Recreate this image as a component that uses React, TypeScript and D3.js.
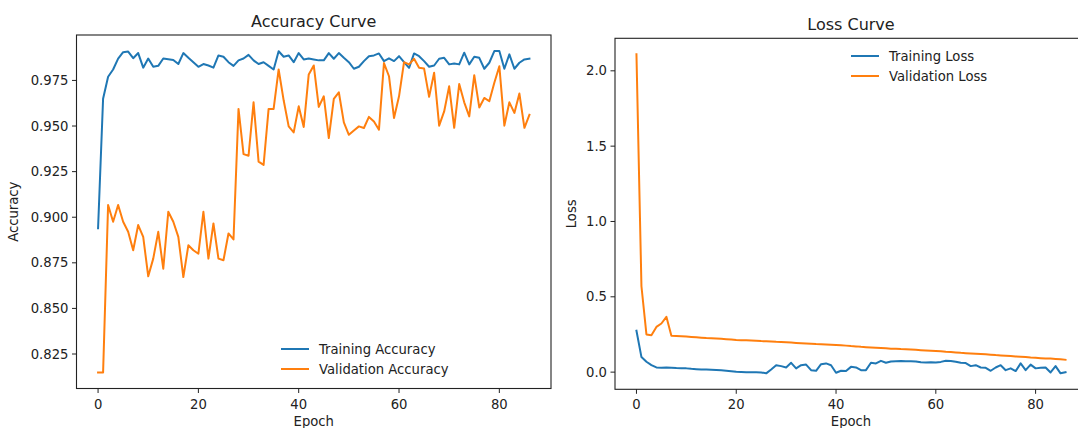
import React from 'react';
import * as d3 from 'd3';

// accuracy per epoch
const trainAcc = [
  0.894, 0.965, 0.977, 0.981, 0.987, 0.9905, 0.9908, 0.9872, 0.990, 0.982,
  0.987, 0.9825, 0.983, 0.987, 0.9866, 0.9862, 0.984, 0.990, 0.9874, 0.985,
  0.9825, 0.984, 0.9832, 0.982, 0.9887, 0.988, 0.985, 0.983, 0.986, 0.987,
  0.989, 0.986, 0.984, 0.985, 0.983, 0.981, 0.991, 0.988, 0.9887, 0.985,
  0.990, 0.9865, 0.987, 0.9865, 0.986, 0.986, 0.990, 0.9869, 0.990, 0.9874,
  0.985, 0.9814, 0.9825, 0.9856, 0.9883, 0.9887, 0.9898, 0.9856, 0.9871, 0.9856,
  0.9883, 0.985, 0.9819, 0.9898, 0.9883, 0.9856, 0.9825, 0.9832, 0.9869, 0.9874,
  0.9838, 0.9843, 0.9838, 0.9902, 0.9838, 0.988, 0.9874, 0.9814, 0.9847, 0.9911,
  0.9911, 0.9814, 0.9893, 0.9814, 0.9847, 0.9865, 0.9869,
];

const valAcc = [
  0.8149, 0.8149, 0.9067, 0.8975, 0.9067, 0.8975, 0.892, 0.8819, 0.8957, 0.8892,
  0.8676, 0.8773, 0.892, 0.8718, 0.903, 0.8975, 0.8892, 0.8672, 0.8846, 0.8819,
  0.880, 0.903, 0.8773, 0.8966, 0.8773, 0.8764, 0.8911, 0.8878, 0.9594, 0.9346,
  0.9337, 0.963, 0.9305, 0.9287, 0.9594, 0.9594, 0.981, 0.9641, 0.9498, 0.9465,
  0.9608, 0.9495, 0.9783, 0.9832, 0.9605, 0.9663, 0.9434, 0.9649, 0.9685, 0.952,
  0.9452, 0.9476, 0.9498, 0.9489, 0.955, 0.9525, 0.948, 0.9845, 0.9773, 0.9544,
  0.9663, 0.985, 0.9838, 0.9869, 0.982, 0.9815, 0.966, 0.9792, 0.9502, 0.958,
  0.9718, 0.949, 0.973, 0.963, 0.9553, 0.9779, 0.9602, 0.9654, 0.9636, 0.9737,
  0.9828, 0.9502, 0.963, 0.9572, 0.9678, 0.949, 0.9562,
];

// loss per epoch
const trainLoss = [
  0.275, 0.10, 0.069, 0.047, 0.031, 0.029, 0.031, 0.029, 0.027, 0.026,
  0.025, 0.022, 0.020, 0.018, 0.017, 0.016, 0.015, 0.013, 0.010, 0.006,
  0.002, 0.001, 0.000, 0.000, -0.001, -0.002, -0.008, 0.018, 0.046, 0.040,
  0.031, 0.062, 0.025, 0.046, 0.050, 0.013, 0.009, 0.053, 0.058, 0.046,
  -0.004, 0.009, 0.007, 0.035, 0.031, 0.013, 0.013, 0.062, 0.058, 0.075,
  0.062, 0.071, 0.073, 0.074, 0.072, 0.073, 0.071, 0.065, 0.064, 0.066,
  0.064, 0.068, 0.075, 0.074, 0.069, 0.062, 0.060, 0.040, 0.046, 0.031,
  0.029, 0.009, 0.031, 0.046, 0.013, 0.025, 0.007, 0.058, 0.013, 0.050,
  0.025, 0.029, 0.031, -0.002, 0.040, -0.008, 0.000,
];

const valLoss = [
  2.11, 0.57, 0.250, 0.245, 0.300, 0.323, 0.367, 0.241, 0.240, 0.238,
  0.236, 0.234, 0.232, 0.229, 0.226, 0.225, 0.223, 0.221, 0.219, 0.216,
  0.213, 0.212, 0.211, 0.210, 0.208, 0.206, 0.205, 0.203, 0.201, 0.200,
  0.198, 0.196, 0.194, 0.192, 0.190, 0.188, 0.186, 0.185, 0.184, 0.182,
  0.180, 0.178, 0.176, 0.173, 0.171, 0.168, 0.166, 0.164, 0.162, 0.160,
  0.158, 0.156, 0.155, 0.153, 0.152, 0.150, 0.148, 0.146, 0.144, 0.142,
  0.140, 0.138, 0.135, 0.133, 0.131, 0.128, 0.126, 0.124, 0.122, 0.120,
  0.118, 0.116, 0.113, 0.111, 0.109, 0.107, 0.104, 0.102, 0.100, 0.097,
  0.095, 0.093, 0.091, 0.090, 0.088, 0.085, 0.082,
];

const accTicks = [0.825, 0.85, 0.875, 0.9, 0.925, 0.95, 0.975];
const lossTicks = [0.0, 0.5, 1.0, 1.5, 2.0];
const epochTicks = [0, 20, 40, 60, 80];

const BLUE = '#1f77b4';
const ORANGE = '#ff7f0e';
const FONT = 'DejaVu Sans, sans-serif';
const FS = 13.2;

type Panel = {
  title: string;
  ylabel: string;
  series: { name: string; values: number[]; color: string }[];
  yTicks: number[];
  yFmt: (v: number) => string;
  box: { left: number; right: number; top: number; bottom: number };
  legend: { x: number; y: number };
  ylabelX: number;
};

function padded(vals: number[]): [number, number] {
  const [lo, hi] = d3.extent(vals) as [number, number];
  const m = (hi - lo) * 0.05;
  return [lo - m, hi + m];
}

function Chart({ p }: { p: Panel }) {
  const { box } = p;
  const n = p.series[0].values.length;
  const x = d3.scaleLinear().domain(padded([0, n - 1])).range([box.left, box.right]);
  const y = d3
    .scaleLinear()
    .domain(padded(p.series.flatMap(s => s.values)))
    .range([box.bottom, box.top]);
  const line = d3
    .line<number>()
    .x((_, i) => x(i))
    .y(d => y(d));
  const clipId = 'clip-' + p.title.replace(/\s/g, '');
  const midY = (box.top + box.bottom) / 2;

  return (
    <g fontFamily={FONT}>
      <defs>
        <clipPath id={clipId}>
          <rect x={box.left} y={box.top} width={box.right - box.left} height={box.bottom - box.top} />
        </clipPath>
      </defs>
      <g clipPath={`url(#${clipId})`}>
        {p.series.map(s => (
          <path key={s.name} d={line(s.values) || ''} fill="none" stroke={s.color} strokeWidth={2}
            strokeLinejoin="round" strokeLinecap="square" />
        ))}
      </g>
      <rect x={box.left} y={box.top} width={box.right - box.left} height={box.bottom - box.top}
        fill="none" stroke="#222" strokeWidth={1.1} />
      {epochTicks.map(t => (
        <g key={'x' + t} transform={`translate(${x(t)},${box.bottom})`}>
          <line y2={4.5} stroke="#222" strokeWidth={1} />
          <text y={20} textAnchor="middle" fontSize={FS} fill="#222">{t}</text>
        </g>
      ))}
      {p.yTicks.map(t => (
        <g key={'y' + t} transform={`translate(${box.left},${y(t)})`}>
          <line x2={-4.5} stroke="#222" strokeWidth={1} />
          <text x={-8} dy="0.35em" textAnchor="end" fontSize={FS} fill="#222">{p.yFmt(t)}</text>
        </g>
      ))}
      <text x={(box.left + box.right) / 2} y={box.top - 8} textAnchor="middle" fontSize={16} fill="#222">
        {p.title}
      </text>
      <text x={(box.left + box.right) / 2} y={box.bottom + 37} textAnchor="middle" fontSize={FS} fill="#222">
        Epoch
      </text>
      <text transform={`translate(${p.ylabelX},${midY}) rotate(-90)`} textAnchor="middle" fontSize={FS} fill="#222">
        {p.ylabel}
      </text>
      {p.series.map((s, i) => (
        <g key={'lg' + s.name} transform={`translate(${p.legend.x},${p.legend.y + i * 20})`}>
          <line x1={0} x2={28} stroke={s.color} strokeWidth={2} />
          <text x={38} dy="0.35em" fontSize={FS} fill="#222">{s.name}</text>
        </g>
      ))}
    </g>
  );
}

export default function App() {
  const acc: Panel = {
    title: 'Accuracy Curve',
    ylabel: 'Accuracy',
    series: [
      { name: 'Training Accuracy', values: trainAcc, color: BLUE },
      { name: 'Validation Accuracy', values: valAcc, color: ORANGE },
    ],
    yTicks: accTicks,
    yFmt: d3.format('.3f'),
    box: { left: 76.5, right: 551, top: 35, bottom: 388.5 },
    legend: { x: 281, y: 349 },
    ylabelX: 18,
  };
  const loss: Panel = {
    title: 'Loss Curve',
    ylabel: 'Loss',
    series: [
      { name: 'Training Loss', values: trainLoss, color: BLUE },
      { name: 'Validation Loss', values: valLoss, color: ORANGE },
    ],
    yTicks: lossTicks,
    yFmt: d3.format('.1f'),
    box: { left: 615, right: 1087, top: 38.3, bottom: 389.3 },
    legend: { x: 851, y: 56 },
    ylabelX: 576,
  };
  return (
    <svg width={1078} height={428} style={{ position: 'absolute', left: 0, top: 0, background: '#fff' }}>
      <rect width={1078} height={428} fill="#fff" />
      <Chart p={acc} />
      <Chart p={loss} />
    </svg>
  );
}
